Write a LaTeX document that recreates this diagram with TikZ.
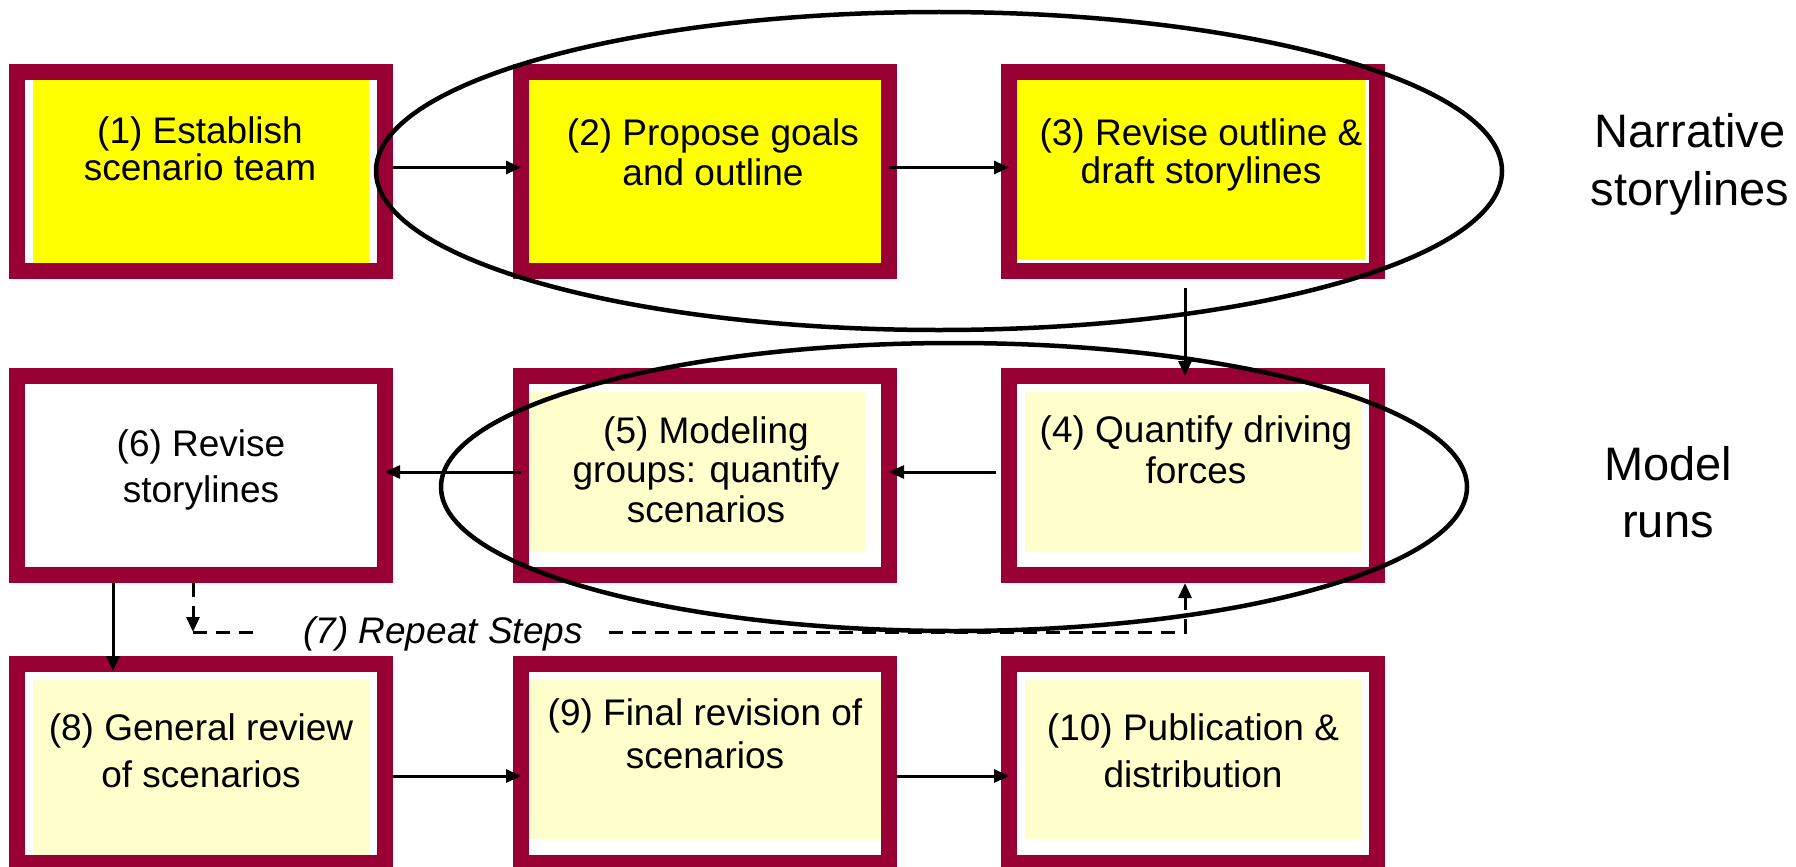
\documentclass[tikz,border=0pt]{standalone}
\usepackage{fontspec}
\setmainfont{Liberation Sans}
\usetikzlibrary{arrows.meta,shapes.geometric,calc}
\definecolor{frame}{HTML}{990033}
\definecolor{hiyellow}{HTML}{FFFF00}
\definecolor{paleyellow}{HTML}{FFFFCC}

\begin{document}
\begin{tikzpicture}[x=1pt,y=-1pt,
  stepbox/.style={draw=frame, line width=16pt, fill=white,
    minimum width=368pt, minimum height=199pt, inner sep=0pt, outer sep=0pt},
  % coloured panel inside a frame: colour, left, right, top, bottom insets
  inset/.style n args={5}{path picture={
    \fill[#1] ([xshift=#2pt,yshift=-#4pt]path picture bounding box.north west)
      rectangle ([xshift=-#3pt,yshift=#5pt]path picture bounding box.south east);}},
  lbl/.style={font=\fontsize{37}{#1}\selectfont, align=center, anchor=north, inner sep=0pt},
  sidelbl/.style={font=\fontsize{47}{#1}\selectfont, align=center, anchor=north, inner sep=0pt},
  grp/.style={ellipse, draw=black, line width=4.5pt, inner sep=0pt},
  conn/.style={line width=3pt, -{Triangle[length=15pt,width=13pt]}},
  dashline/.style={line width=3pt, dash pattern=on 14pt off 9pt},
  dashconn/.style={dashline, -{Triangle[length=15pt,width=13pt]}}
]
\useasboundingbox (0,0) rectangle (1796,867);
\clip (0,0) rectangle (1796,867);

% step frames
\node[stepbox, inset={hiyellow}{16}{16}{8}{8}]    (b1)  at (201,171.5) {};
\node[stepbox, inset={hiyellow}{8}{8}{8}{8}]      (b2)  at (705,171.5) {};
\node[stepbox, inset={hiyellow}{8}{12}{8}{11}]    (b3)  at (1193,171.5) {};
\node[stepbox, inset={paleyellow}{16}{16}{16}{23}] (b4) at (1193,475.5) {};
\node[stepbox, inset={paleyellow}{8}{24}{16}{23}]  (b5) at (705,475.5) {};
\node[stepbox]                                     (b6) at (201,475.5) {};
\node[stepbox, inset={paleyellow}{16}{16}{16}{8}]  (b8) at (201,763.5) {};
\node[stepbox, inset={paleyellow}{8}{8}{16}{24}]   (b9) at (705,763.5) {};
\node[stepbox, inset={paleyellow}{16}{16}{16}{24}] (b10) at (1193,763.5) {};

% step texts
\node[lbl=37]   (t1)  at (200,116)  {(1) Establish\\scenario team};
\node[lbl=40]   (t2)  at (713,118)  {(2) Propose goals\\and outline};
\node[lbl=38]   (t3)  at (1201,118) {(3) Revise outline \&\\draft storylines};
\node[lbl=41]   (t4)  at (1196,415) {(4) Quantify driving\\forces};
\node[lbl=39.5] (t5)  at (706,416)  {(5) Modeling\\groups: quantify\\scenarios};
\node[lbl=46]   (t6)  at (201,429)  {(6) Revise\\storylines};
\node[lbl=47]   (t8)  at (201,713)  {(8) General review\\of scenarios};
\node[lbl=43]   (t9)  at (705,698)  {(9) Final revision of\\scenarios};
\node[lbl=47]   (t10) at (1193,713) {(10) Publication \&\\distribution};

% side labels
\node[sidelbl=58] (n1) at (1690,113) {Narrative\\storylines};
\node[sidelbl=57] (n2) at (1668,446) {Model\\runs};

% groupings
\node[grp, minimum width=1126pt, minimum height=318pt] (e1) at (939,171) {};
\node[grp, minimum width=1026pt, minimum height=288pt] (e2) at (954,487) {};

% flow
\draw[conn] ([xshift=8pt,yshift=4pt]b1.east) -- ([yshift=4pt]b2.west);
\draw[conn] ([yshift=4pt]b2.east) -- ([yshift=4pt]b3.west);
\draw[conn] ([xshift=-8pt,yshift=-17pt]b3.south) -- ([xshift=-8pt]b4.north);
\draw[conn] ([xshift=-13pt,yshift=3.5pt]b4.west) -- ([yshift=3.5pt]b5.east);
\draw[conn] ([yshift=3.5pt]b5.west) -- ([yshift=3.5pt]b6.east);
\draw[conn] ([xshift=-88pt,yshift=-8pt]b6.south) -- ([xshift=-88pt,yshift=-7pt]b8.north);
\draw[conn] ([xshift=8pt,yshift=-12.5pt]b8.east) -- ([yshift=-12.5pt]b9.west);
\draw[conn] ([xshift=8pt,yshift=-12.5pt]b9.east) -- ([yshift=-12.5pt]b10.west);

% repeat loop
\node[font=\fontsize{37}{40}\selectfont\itshape, inner sep=0pt, anchor=base] (t7) at (443,643) {(7) Repeat Steps};
\coordinate (c7) at (193,632);
\draw[dashconn] ([xshift=-8pt,yshift=-8pt]b6.south) -- (c7);
\draw[dashline] (c7) -- ($(c7 -| t7.west)+(-43,0)$);
\draw[dashconn] ($(c7 -| t7.east)+(26,0)$) -| ([xshift=-8pt,yshift=-8pt]b4.south);
\end{tikzpicture}
\end{document}
